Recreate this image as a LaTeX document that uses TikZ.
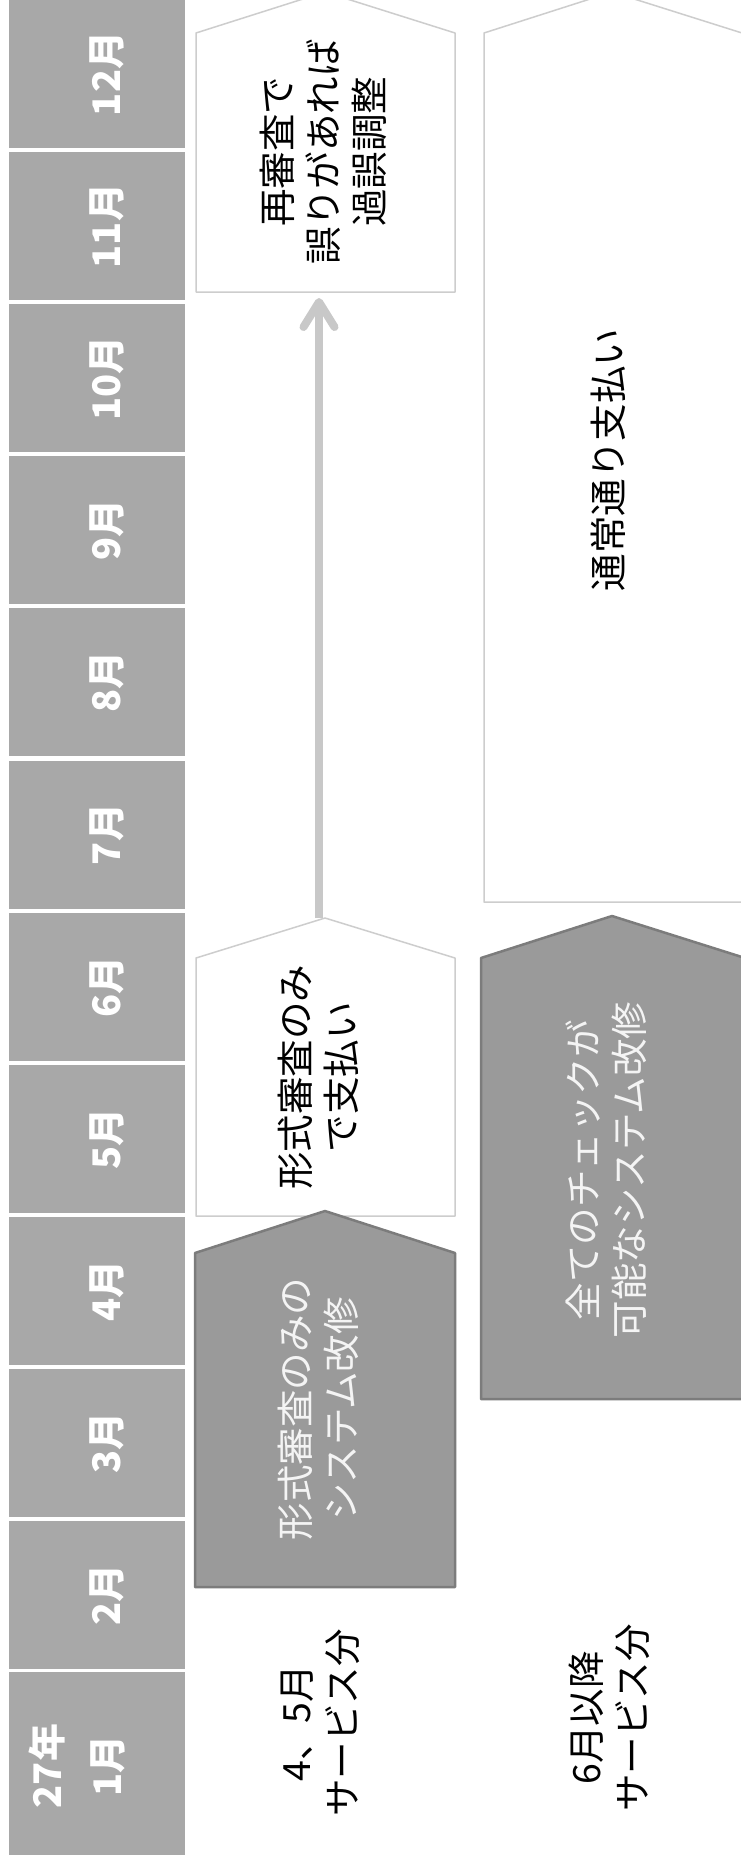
\documentclass[tikz,border=0pt]{standalone}
\usepackage{fontspec}
\setmainfont{Noto Sans CJK JP}
\usetikzlibrary{arrows.meta}
\definecolor{cellgray}{HTML}{A8A8A8}
\definecolor{boxdark}{HTML}{9A9A9A}
\definecolor{boxdarkedge}{HTML}{7C7C7C}
\definecolor{boxlightedge}{HTML}{CDCDCD}
\definecolor{arrowgray}{HTML}{C8C8C8}
\definecolor{paletext}{HTML}{F4F4F4}
\begin{document}
\begin{tikzpicture}[x=1pt,y=-1pt,
  cell/.style={fill=cellgray, draw=none, minimum width=176pt, inner sep=0pt},
  monthlbl/.style={rotate=90, text=white, font=\fontsize{38}{46}\selectfont\bfseries, inner sep=0pt},
  boxtxt/.style={rotate=90, align=center, font=\fontsize{37.5}{46}\selectfont, inner sep=0pt},
  darkbox/.style={fill=boxdark, draw=boxdarkedge, line width=2.5pt, line join=round},
  lightbox/.style={fill=white, draw=boxlightedge, line width=1.5pt, line join=round},
  flow/.style={draw=arrowgray, line width=8pt, -{Straight Barb[length=25pt,width=31pt,round]}}
]
\useasboundingbox (0,0) rectangle (740,1862);
\fill[white] (0,0) rectangle (740,1862);

% month column
\foreach \m in {2,...,12}{
  \pgfmathsetmacro{\cy}{(12-\m)*152.1+74}
  \node[cell, minimum height=148pt] (cell\m) at (97,\cy) {};
  \node[monthlbl] (lbl\m) at (107,\cy) {\m 月};
}
\node[cell, minimum height=183pt] (cell1) at (97,1763.5) {};
\node[monthlbl, align=center, font=\fontsize{38}{60}\selectfont\bfseries] (lbl1) at (77,1766) {27年\\1月};

% row 1 shapes
\draw[lightbox] (196,33) -- (325,-8) -- (455,33) -- (455,292) -- (196,292) -- cycle;
\draw[lightbox] (196,958) -- (325,918) -- (455,958) -- (455,1216) -- (196,1216) -- cycle;
\draw[darkbox] (195,1253) -- (325,1211) -- (455,1253) -- (455,1587) -- (195,1587) -- cycle;
\coordinate (payApex) at (319,918);
\coordinate (reviewBottom) at (319,298);

% row 2 shapes
\draw[lightbox] (484,33) -- (612,-8) -- (742,33) -- (742,902) -- (484,902) -- cycle;
\draw[darkbox] (481,958) -- (612,916) -- (745,958) -- (745,1399) -- (481,1399) -- cycle;

% arrow
\draw[flow] (payApex) -- (reviewBottom);

% texts
\node[boxtxt] (review) at (323,152) {再審査で\\誤りがあれば\\過誤調整};
\node[boxtxt] (payA) at (318,1077) {形式審査のみ\\で支払い};
\node[boxtxt, text=paletext] (sysA) at (318,1409) {形式審査のみの\\システム改修};
\node[boxtxt] (normal) at (608,460) {通常通り支払い};
\node[boxtxt, text=paletext] (sysB) at (606,1170) {全てのチェックが\\可能なシステム改修};
\node[boxtxt] (lab45) at (320,1723) {4、5月\\サービス分};
\node[boxtxt] (lab6) at (609,1718) {6月以降\\サービス分};
\end{tikzpicture}
\end{document}
